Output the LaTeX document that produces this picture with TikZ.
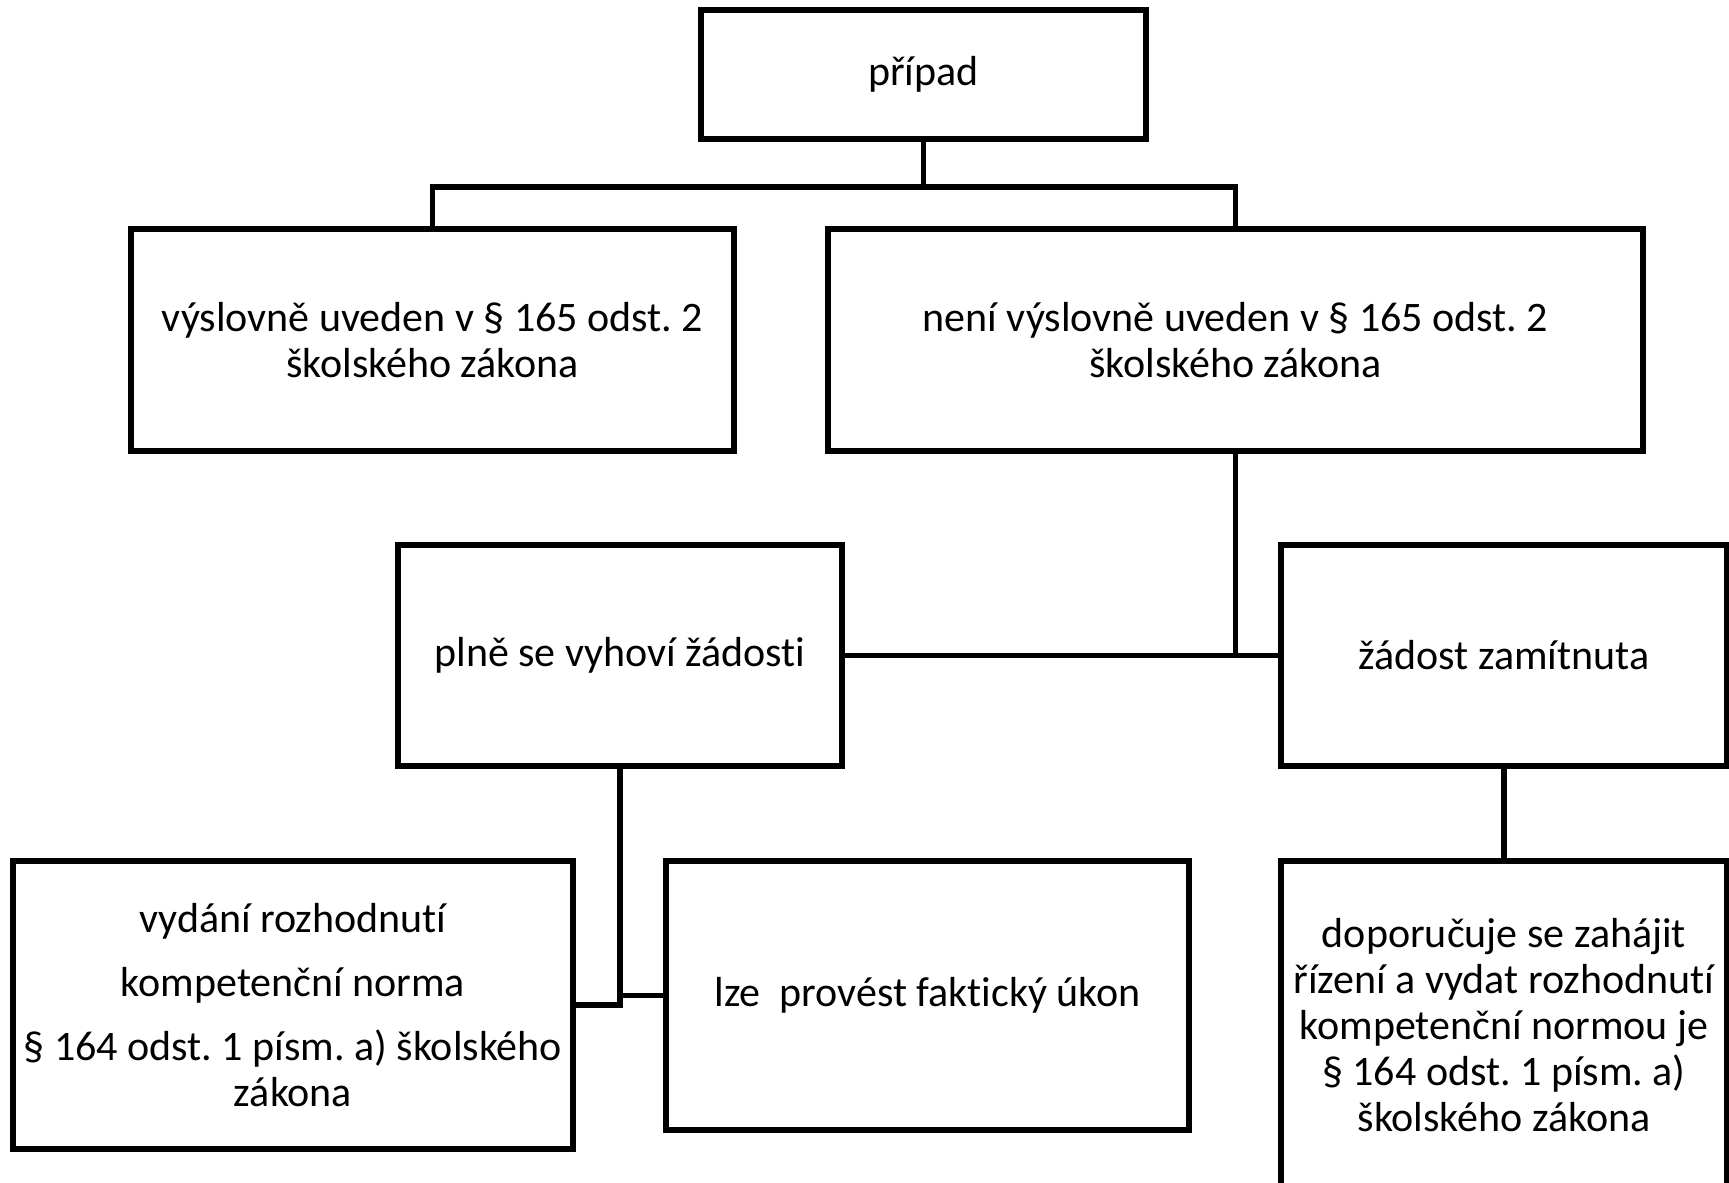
\documentclass[tikz,border=0pt]{standalone}
\usepackage{fontspec}
\setmainfont[Ligatures=NoCommon]{Carlito}
\usetikzlibrary{calc}
\begin{document}
\frenchspacing
\begin{tikzpicture}[x=1pt,y=1pt,
  box/.style={draw, line width=5.5pt, inner sep=0pt, align=center,
    font=\fontsize{42}{46}\selectfont},
  conn/.style={line width=5.5pt}]
\clip (0,0) rectangle (1729,-1183);
\useasboundingbox (0,0) rectangle (1729,-1183);
\node[box, minimum width=445, minimum height=129] (P) at (923.5,-74.5) {případ};
\node[box, minimum width=603, minimum height=222] (A) at (432.5,-340) {výslovně uveden v § 165 odst. 2\\školského zákona};
\node[box, minimum width=815, minimum height=222] (B) at (1235.5,-340) {není výslovně uveden v § 165 odst. 2\\školského zákona};
\node[box, minimum width=444, minimum height=221] (C) at (620,-655.5) {plně se vyhoví žádosti};
\node[box, minimum width=446, minimum height=221] (D) at (1504,-655.5) {žádost zamítnuta};
\node[box, minimum width=560, minimum height=288] (E) at (293,-1005) {vydání rozhodnutí\\[18pt]kompetenční norma\\[18pt]§ 164 odst. 1 písm. a) školského\\zákona};
\node[box, minimum width=523, minimum height=269] (F) at (927.5,-995.5) {lze\ \ provést faktický úkon};
\node[box, minimum width=446, minimum height=329] (G) at (1504,-1025.5) {doporučuje se zahájit\\řízení a vydat rozhodnutí\\kompetenční normou je\\§ 164 odst. 1 písm. a)\\školského zákona};
\coordinate (J) at ($(P.south)+(0,-45)$);
\draw[conn] (P.south) -- (J) -| (A.north);
\draw[conn] (J) -| (B.north);
\draw[conn] (B.south) -- (B.south |- C.east);
\draw[conn] (C.east) -- (D.west);
\draw[conn] (C.south) |- (E.east);
\draw[conn] (C.south) |- (F.west);
\draw[conn] (D.south) -- (G.north);
\end{tikzpicture}
\end{document}
